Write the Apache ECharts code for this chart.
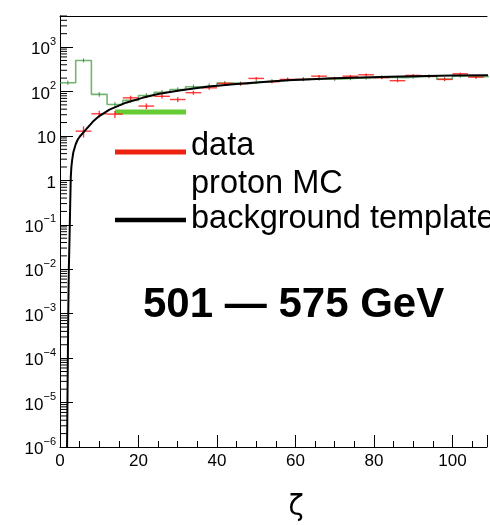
<!DOCTYPE html>
<html>
<head>
<meta charset="utf-8">
<script src="https://cdn.jsdelivr.net/npm/echarts@6/dist/echarts.min.js"></script>
<style>html,body{margin:0;padding:0;background:#fff;}#c{width:490px;height:525px;}</style>
</head>
<body>
<div id="c"></div>
<script>
// ---- data ----
const mcBinEdges = [0,4,8,12,16,20,24,28,32,36,40,44,48,52,56,60,64,68,72,76,80,84,88,92,96,100,104,108,112];
const mcValues   = [157,500,86,51,63,81,96,111,128,137,155,150,165,172,185,190,195,192,200,205,210,205,215,220,190,225,215,225];
const mcErrors   = [6,14,4,3,3,4,4,4,5,5,5,5,5,5,6,6,6,6,6,6,6,6,6,6,6,6,6,6];

const dataZeta   = [6,10,14,18,22,26,30,34,38,42,46,50,54,58,62,66,70,74,78,82,86,90,94,98,102,106];
const dataValues = [12.8,31.5,31,72,47,78,66,94,121,152,150,197,166,187,187,221,199,221,238,205,175,230,221,187,250,210];
const dataErrors = [3.6,5.6,5.6,8.5,6.9,8.8,8.1,9.7,11,12.3,12.2,14,12.9,13.7,13.7,14.9,14.1,14.9,15.4,14.3,13.2,15.2,14.9,13.7,15.8,14.5];
const dataHalfWidth = 2;

const curveZeta   = [1.8,1.9,2.0,2.1,2.25,2.45,2.6,2.75,2.9,3.1,3.4,4.0,4.5,5.0,6.3,8.4,10,12.6,16.8,21,25,30,34,38,45,50,58,70,84,100,110];
const curveValues = [1e-6,1e-5,1e-4,1e-3,1e-2,0.06,0.3,1.2,2.0,2.9,4.3,6.5,8.2,9.6,13,21,28,39,56,72,88,104,117,130,148,160,178,198,216,228,234];

const xTickLabels = ['0','20','40','60','80','100'];
const yDecades = [-6,-5,-4,-3,-2,-1,0,1,2,3];

// ---- build options ----
const histData = mcBinEdges.map((e,i)=>[e, i<mcValues.length ? mcValues[i] : mcValues[mcValues.length-1]]);
const mcErrData = mcValues.map((v,i)=>[(mcBinEdges[i]+mcBinEdges[i+1])/2, v, mcErrors[i]]);
const crossData = dataZeta.map((z,i)=>[z, dataValues[i], dataHalfWidth, dataErrors[i]]);
const curveData = curveZeta.map((z,i)=>[z, curveValues[i]]);
const minorY = [];
yDecades.forEach(d=>{ for(let k=2;k<=9;k++){ const v=k*Math.pow(10,d); if(v<=5000) minorY.push([0,v]); } });

const FONT = "'Liberation Sans', Arial, Helvetica, sans-serif";

const chart = echarts.init(document.getElementById('c'), null, {renderer:'canvas'});
chart.setOption({
  animation:false,
  backgroundColor:'#fff',
  grid:{left:60, top:16, width:432, height:431, show:false},
  xAxis:[{
    type:'value', min:0, max:108.8, interval:20,
    axisLine:{show:true, onZero:false, lineStyle:{color:'#000', width:1}},
    axisTick:{show:true, inside:true, length:12, lineStyle:{color:'#000'}},
    minorTick:{show:true, splitNumber:4, length:6, lineStyle:{color:'#000'}},
    splitLine:{show:false},
    axisLabel:{color:'#000', fontFamily:FONT, fontSize:17, margin:6,
      formatter:function(v){ const s=String(Math.round(v)); return (Math.abs(v-Math.round(v))<1e-6 && xTickLabels.indexOf(s)>=0) ? s : ''; }}
  },{
    type:'value', position:'top', min:0, max:108.8,
    axisLine:{show:true, onZero:false, lineStyle:{color:'#000', width:1}},
    axisTick:{show:false}, axisLabel:{show:false}, splitLine:{show:false}
  }],
  yAxis:{
    type:'log', logBase:10, min:1e-6, max:5000, interval:1,
    axisLine:{show:true, lineStyle:{color:'#000', width:1}},
    axisTick:{show:true, inside:true, length:13, lineStyle:{color:'#000'}},
    splitLine:{show:false},
    axisLabel:{color:'#000', fontFamily:FONT, fontSize:17, margin:4,
      formatter:function(v){
        const l=Math.log10(v), e=Math.round(l);
        if(Math.abs(l-e)>1e-6 || yDecades.indexOf(e)<0) return '';
        if(e===0) return '{b|1}';
        if(e===1) return '{b|10}';
        return '{b|10}{s|'+(e<0?'\u2212':'')+Math.abs(e)+'}';
      },
      rich:{
        b:{fontFamily:FONT, fontSize:17, color:'#000', lineHeight:22, verticalAlign:'bottom'},
        s:{fontFamily:FONT, fontSize:11, color:'#000', lineHeight:22, verticalAlign:'top'}
      }
    }
  },
  series:[
    { // y minor ticks
      type:'custom', silent:true, clip:false, data:minorY,
      renderItem:function(params, api){
        const p=api.coord([0, api.value(1)]);
        return {type:'line', shape:{x1:p[0], y1:p[1], x2:p[0]+7, y2:p[1]}, style:{stroke:'#000', lineWidth:1}};
      }, z:5
    },
    { // proton MC histogram
      type:'line', step:'end', data:histData, symbol:'none', clip:true,
      lineStyle:{color:'#3f9f3f', width:1.6, opacity:0.75}, z:2
    },
    { // MC error ticks
      type:'custom', data:mcErrData, clip:true,
      renderItem:function(params, api){
        const x=api.value(0), v=api.value(1), e=api.value(2);
        const a=api.coord([x, v-e]), b=api.coord([x, v+e]);
        return {type:'line', shape:{x1:a[0], y1:Math.max(a[1],b[1])+1.5, x2:b[0], y2:Math.min(a[1],b[1])-1.5}, style:{stroke:'#2a7a2a', lineWidth:1, opacity:0.8}};
      }, z:3
    },
    { // data crosses
      type:'custom', data:crossData, clip:true,
      renderItem:function(params, api){
        const x=api.value(0), v=api.value(1), hw=api.value(2), e=api.value(3);
        const l=api.coord([x-hw, v]), r=api.coord([x+hw, v]);
        const d=api.coord([x, v-e]), u=api.coord([x, v+e]);
        return {type:'group', children:[
          {type:'line', shape:{x1:l[0], y1:l[1], x2:r[0], y2:r[1]}, style:{stroke:'#ff1a1a', lineWidth:1.4, opacity:0.85}},
          {type:'line', shape:{x1:d[0], y1:d[1], x2:u[0], y2:u[1]}, style:{stroke:'#ff1a1a', lineWidth:1.4, opacity:0.85}}
        ]};
      }, z:4
    },
    { // background template
      type:'line', data:curveData, symbol:'none', smooth:false, clip:true,
      lineStyle:{color:'#000', width:2}, z:6
    }
  ],
  graphic:[
    {type:'line', shape:{x1:115, y1:112, x2:186, y2:112}, style:{stroke:'#66cc33', lineWidth:5}},
    {type:'line', shape:{x1:115, y1:152, x2:186, y2:152}, style:{stroke:'#ee2211', lineWidth:5}},
    {type:'line', shape:{x1:115, y1:220, x2:186, y2:220}, style:{stroke:'#000', lineWidth:4.5}},
    {type:'text', x:191, y:146, style:{text:'data', font:'32.5px '+FONT, fill:'#000', verticalAlign:'middle'}},
    {type:'text', x:191, y:184, style:{text:'proton MC', font:'32.5px '+FONT, fill:'#000', verticalAlign:'middle'}},
    {type:'text', x:191, y:219, style:{text:'background template', font:'32.5px '+FONT, fill:'#000', verticalAlign:'middle'}},
    {type:'text', x:143, y:305, style:{text:'501 \u2014 575 GeV', font:'bold 42px '+FONT, fill:'#000', verticalAlign:'middle'}},
    {type:'text', x:296, y:508, style:{text:'\u03b6', font:'28px DejaVu Sans', fill:'#000', align:'center', verticalAlign:'middle'}}
  ]
});
</script>
</body>
</html>
